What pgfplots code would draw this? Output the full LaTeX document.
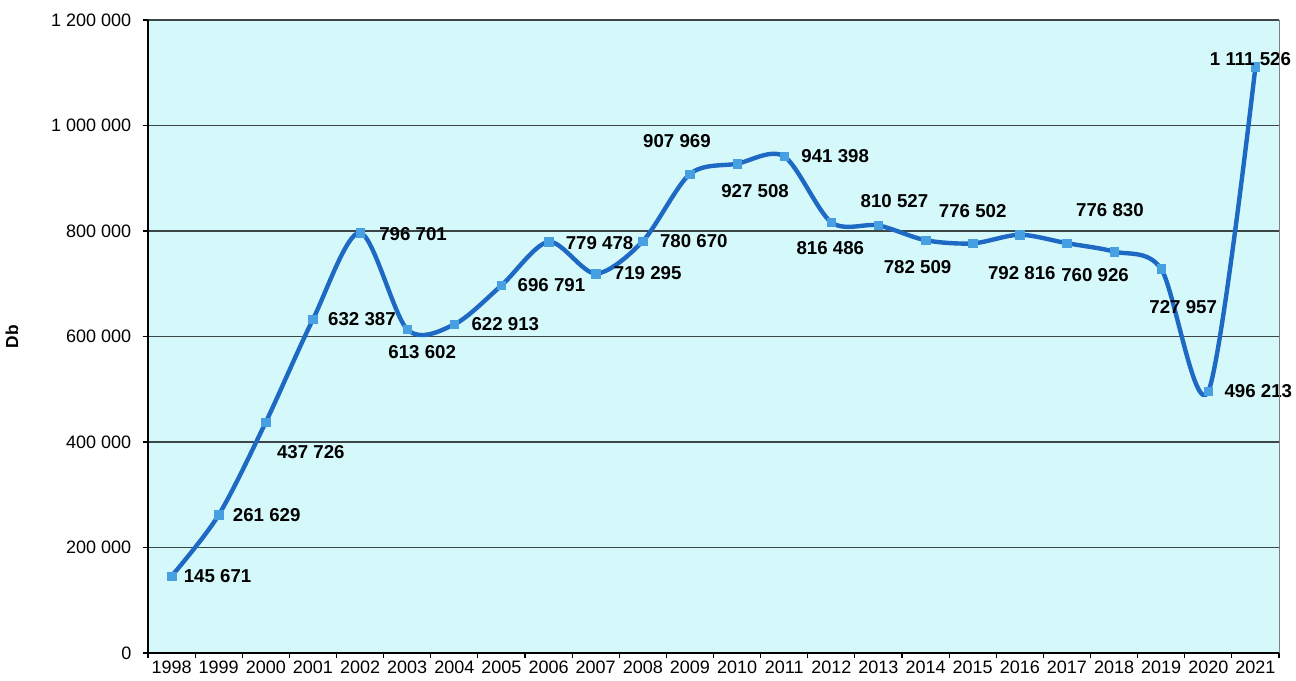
\documentclass[border=0pt]{standalone}
\usepackage{pgfplots}
\pgfplotsset{compat=1.18}
\usepackage{pgfplotstable}
\usepackage{fontspec}
\setmainfont{Liberation Sans}

\definecolor{bgcol}{RGB}{213,249,251}
\definecolor{linecol}{RGB}{30,105,195}
\definecolor{markcol}{RGB}{70,160,225}
\definecolor{gridcol}{RGB}{60,70,70}

\pgfplotstableread[col sep=comma,row sep=\\]{
x,y,lab,dx,dy\\
0,145671,145 671,46,0\\
1,261629,261 629,48,0\\
2,437726,437 726,45,-30\\
3,632387,632 387,49,0\\
4,796701,796 701,53,-1\\
5,613602,613 602,15,-23\\
6,622913,622 913,51,0\\
7,696791,696 791,50,0\\
8,779478,779 478,51,-1\\
9,719295,719 295,52,0\\
10,780670,780 670,51,0\\
11,907969,907 969,-13,33\\
12,927508,927 508,18,-27\\
13,941398,941 398,51,0\\
14,816486,816 486,-1,-26\\
15,810527,810 527,16,24\\
16,782509,782 509,-8,-27\\
17,776502,776 502,0,32\\
18,792816,792 816,2,-38\\
19,776830,776 830,43,33\\
20,760926,760 926,-19,-23\\
21,727957,727 957,22,-38\\
22,496213,496 213,50,0\\
23,1111526,1 111 526,-5,8\\
}\datatable

\begin{document}
\begin{tikzpicture}
\useasboundingbox (0pt,0pt) rectangle (972pt,510.75pt);
\begin{axis}[
  at={(111pt,21pt)}, anchor=south west,
  scale only axis,
  width=848.25pt, height=474.75pt,
  xmin=-0.5, xmax=23.5, ymin=0, ymax=1200000,
  clip=false,
  scaled y ticks=false,
  axis background/.style={fill=bgcol},
  axis x line*=bottom, axis y line*=left,
  axis line style={black, line width=1.1pt},
  xtick={0,...,23},
  xticklabels={1998,1999,2000,2001,2002,2003,2004,2005,2006,2007,2008,2009,2010,2011,2012,2013,2014,2015,2016,2017,2018,2019,2020,2021},
  major x tick style={draw=none},
  minor xtick={-0.5,0.5,...,23.5},
  minor x tick style={black, line width=0.8pt},
  minor tick length=4pt,
  major tick length=4pt,
  tick align=outside,
  ytick={0,200000,400000,600000,800000,1000000,1200000},
  yticklabels={0,200 000,400 000,600 000,800 000,1 000 000,1 200 000},
  y tick style={black, line width=0.8pt},
  ymajorgrids,
  major grid style={gridcol, line width=0.9pt},
  ticklabel style={font=\fontsize{13.5}{13.5}\selectfont},
  yticklabel style={xshift=-5pt},
  xticklabel style={yshift=1.5pt},
  ylabel={\bfseries Db},
  ylabel style={at={(axis description cs:-0.1203,0.5)}, anchor=center, font=\fontsize{13}{13}\selectfont},
  after end axis/.code={\draw[gray, line width=0.6pt] (rel axis cs:1,0) -- (rel axis cs:1,1);},
]
\addplot[smooth, tension=0.5, line width=3.3pt, color=linecol,
  mark=square*, mark size=3.2pt,
  mark options={fill=markcol, draw=markcol, line width=0.4pt},
  point meta=explicit symbolic,
  visualization depends on={\thisrow{dx}\as\mydx},
  visualization depends on={\thisrow{dy}\as\mydy},
  nodes near coords,
  nodes near coords style={anchor=center, inner sep=0pt, text=black,
     font=\bfseries\fontsize{14}{14}\selectfont,
     xshift=\mydx*0.75pt, yshift=\mydy*0.75pt},
] table[x=x, y=y, meta=lab] {\datatable};
\end{axis}
\end{tikzpicture}
\end{document}
